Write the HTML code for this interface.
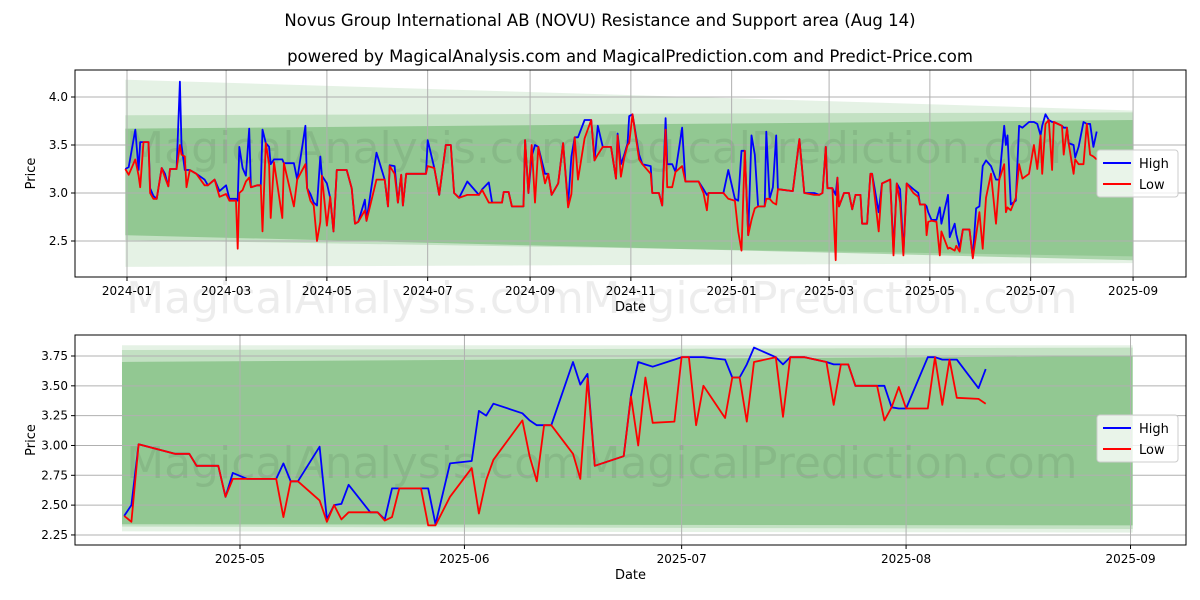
<!DOCTYPE html>
<html><head><meta charset="utf-8">
<style>
body{margin:0;background:#fff;}
svg{display:block;font-family:"DejaVu Sans","Liberation Sans",sans-serif;}
</style></head>
<body>
<svg id="chart" width="1200" height="600" viewBox="0 0 1200 600" xmlns="http://www.w3.org/2000/svg">
<rect width="1200" height="600" fill="#fff"/>
<text x="600" y="26" text-anchor="middle" font-size="16.5">Novus Group International AB (NOVU) Resistance and Support area (Aug 14)</text>
<text x="630" y="62" text-anchor="middle" font-size="16.5">powered by MagicalAnalysis.com and MagicalPrediction.com and Predict-Price.com</text>
<g id="topPanelG"></g>
<g id="botPanelG"></g>
</svg>
<script>
// ---- TOP CHART DATA (day offsets from 2024-01-01) ----
const topDays=[-1,1,5,7,8,10,13,14,16,18,21,23,25,26,30,32,33,35,36,38,42,47,49,53,56,60,62,66,67,68,70,72,74,75,79,81,82,84,86,87,89,94,95,101,103,108,109,111,113,115,117,118,121,123,125,127,133,136,138,140,144,145,151,156,158,159,162,164,166,167,169,181,182,186,189,193,196,198,201,206,213,215,219,221,227,228,231,233,240,241,243,245,247,249,253,255,257,261,264,267,269,271,273,277,281,283,285,288,293,296,297,299,301,303,304,306,310,312,317,318,322,324,326,327,330,332,336,338,346,349,351,352,361,364,368,370,372,374,376,378,380,382,386,387,389,391,393,394,403,407,410,416,419,421,423,424,427,429,430,431,434,437,439,441,444,445,448,450,451,455,457,462,464,466,468,470,472,476,479,480,483,484,485,487,490,492,493,497,498,501,502,504,506,510,512,514,516,518,520,523,526,528,531,532,533,535,538,540,542,546,549,551,553,554,556,558,560,561,566,567,569,570,573,574,576,579,581,583,585,587];
const topHigh=[3.25,3.27,3.66,3.24,3.53,3.53,3.53,3.05,2.97,2.94,3.26,3.2,3.07,3.25,3.25,4.16,3.5,3.24,3.24,3.24,3.2,3.14,3.08,3.14,3.02,3.08,2.94,2.94,2.92,3.48,3.26,3.18,3.67,3.06,3.08,3.08,3.66,3.52,3.48,3.3,3.35,3.35,3.31,3.31,3.14,3.7,3.05,2.99,2.9,2.87,3.38,3.18,3.1,2.95,2.6,3.24,3.24,3.05,2.68,2.7,2.93,2.71,3.42,3.14,2.86,3.29,3.28,2.9,3.19,2.87,3.2,3.2,3.55,3.26,2.98,3.5,3.5,3.0,2.95,3.12,2.98,3.04,3.11,2.9,2.9,3.01,3.01,2.86,2.86,3.55,3.0,3.38,3.5,3.48,3.2,3.2,2.98,3.1,3.52,2.88,3.38,3.58,3.58,3.76,3.76,3.34,3.7,3.48,3.48,3.15,3.62,3.3,3.4,3.52,3.8,3.82,3.4,3.3,3.28,3.0,3.0,2.87,3.78,3.3,3.3,3.22,3.68,3.12,3.12,3.04,2.98,3.0,3.0,3.24,2.94,2.92,3.44,3.44,2.56,3.6,3.4,2.86,2.86,3.64,2.94,3.06,3.6,3.04,3.02,3.56,3.0,3.0,2.98,3.0,3.48,3.05,3.05,2.98,3.16,2.86,3.0,3.0,2.83,2.98,2.98,2.68,2.68,3.2,3.2,2.8,3.1,3.14,2.4,3.1,3.04,2.38,3.1,3.04,3.0,2.88,2.88,2.86,2.8,2.72,2.72,2.85,2.68,2.98,2.54,2.68,2.57,2.43,2.62,2.62,2.33,2.84,2.86,3.28,3.34,3.28,3.14,3.14,3.7,3.5,3.6,2.88,2.92,3.7,3.68,3.74,3.74,3.72,3.6,3.7,3.82,3.76,3.74,3.74,3.7,3.68,3.68,3.52,3.5,3.37,3.48,3.74,3.72,3.72,3.48,3.64];
const topLow=[3.25,3.19,3.35,3.18,3.06,3.53,3.53,3.0,2.94,2.94,3.26,3.16,3.07,3.25,3.25,3.5,3.4,3.38,3.06,3.24,3.2,3.08,3.08,3.14,2.96,2.99,2.92,2.92,2.42,3.0,3.03,3.12,3.16,3.06,3.08,3.08,2.6,3.52,3.3,2.74,3.32,2.74,3.31,2.86,3.14,3.3,3.05,2.92,2.87,2.5,2.7,3.18,2.66,2.96,2.6,3.24,3.24,3.05,2.68,2.7,2.82,2.71,3.14,3.14,2.86,3.28,3.2,2.9,3.19,2.87,3.2,3.2,3.28,3.26,2.98,3.5,3.5,3.0,2.95,2.98,2.98,3.03,2.9,2.9,2.9,3.01,3.01,2.86,2.86,3.55,3.0,3.5,2.9,3.48,3.1,3.2,2.98,3.1,3.52,2.85,2.99,3.58,3.14,3.57,3.76,3.34,3.4,3.48,3.48,3.15,3.6,3.17,3.37,3.5,3.52,3.82,3.35,3.3,3.2,3.0,3.0,2.87,3.66,3.06,3.06,3.22,3.28,3.12,3.12,3.0,2.82,3.0,3.0,2.94,2.92,2.6,2.4,3.44,2.56,2.72,2.84,2.86,2.86,2.94,2.94,2.9,2.88,3.04,3.02,3.56,3.0,2.98,2.98,3.0,3.48,3.05,3.05,2.3,3.16,2.86,3.0,3.0,2.83,2.98,2.98,2.68,2.68,3.2,3.2,2.6,3.1,3.14,2.35,3.1,2.9,2.35,3.1,3.0,2.96,2.88,2.88,2.56,2.7,2.71,2.7,2.35,2.6,2.42,2.43,2.4,2.45,2.39,2.62,2.62,2.32,2.56,2.8,2.42,2.95,3.2,2.68,3.14,3.3,2.8,2.85,2.82,2.95,3.3,3.15,3.2,3.5,3.25,3.6,3.2,3.72,3.76,3.24,3.74,3.7,3.4,3.68,3.52,3.2,3.35,3.3,3.3,3.72,3.4,3.38,3.35];
const topTickLabels=["2024-01","2024-03","2024-05","2024-07","2024-09","2024-11","2025-01","2025-03","2025-05","2025-07","2025-09"];
const topTickDays=[0,60,121,182,244,305,366,425,486,547,609];
const topYTicks=[2.5,3.0,3.5,4.0];
const topBandOuter=[4.18,3.86,2.23,2.27];
const topBandMid=[3.81,3.84,2.51,2.34];
const topBandInner=[3.67,3.76,2.56,2.30];
const topBandDays=[-1,609];

// ---- BOTTOM CHART DATA (day offsets from 2025-05-01) ----
const botDays=[-16,-15,-14,-9,-7,-6,-3,-2,-1,1,5,6,7,8,11,12,13,14,15,18,19,20,21,22,25,26,27,29,32,33,34,35,39,40,41,42,43,46,47,48,49,53,54,55,56,57,60,61,62,63,64,67,68,69,70,71,74,75,76,78,81,82,83,84,85,88,89,90,91,92,95,96,97,98,99,102,103];
const botHigh=[2.41,2.50,3.01,2.93,2.93,2.83,2.83,2.57,2.77,2.72,2.72,2.85,2.70,2.70,2.99,2.38,2.50,2.51,2.67,2.44,2.44,2.38,2.64,2.64,2.64,2.64,2.34,2.85,2.87,3.29,3.25,3.35,3.27,3.21,3.17,3.17,3.17,3.70,3.51,3.60,2.83,2.91,3.42,3.70,3.68,3.66,3.72,3.74,3.74,3.74,3.74,3.72,3.57,3.57,3.68,3.82,3.74,3.68,3.74,3.74,3.70,3.68,3.68,3.68,3.50,3.50,3.50,3.32,3.31,3.31,3.74,3.74,3.72,3.72,3.72,3.48,3.64];
const botLow=[2.41,2.36,3.01,2.93,2.93,2.83,2.83,2.57,2.72,2.72,2.72,2.40,2.70,2.70,2.54,2.36,2.50,2.38,2.44,2.44,2.44,2.37,2.40,2.64,2.64,2.33,2.33,2.57,2.81,2.43,2.71,2.88,3.21,2.91,2.70,3.17,3.17,2.93,2.72,3.56,2.83,2.91,3.41,3.00,3.57,3.19,3.20,3.74,3.74,3.17,3.50,3.23,3.57,3.57,3.20,3.70,3.74,3.24,3.74,3.74,3.70,3.34,3.68,3.68,3.50,3.50,3.21,3.32,3.49,3.31,3.31,3.74,3.34,3.72,3.40,3.39,3.35];
const botTickLabels=["2025-05","2025-06","2025-07","2025-08","2025-09"];
const botTickDays=[0,31,61,92,123];
const botYTicks=[2.25,2.50,2.75,3.00,3.25,3.50,3.75];
const botBandOuter=[3.84,3.84,2.28,2.27];
const botBandMid=[3.80,3.82,2.32,2.30];
const botBandInner=[3.70,3.75,2.34,2.33];
const botBandDays=[-16.3,123.3];

const NS="http://www.w3.org/2000/svg";
function mk(parent,tag,attrs,text){const e=document.createElementNS(NS,tag);for(const k in attrs)e.setAttribute(k,attrs[k]);if(text!==undefined)e.textContent=text;parent.appendChild(e);return e;}

function drawPanel(g,cfg){
  const {L,R,T,B,xs,ys,yFmt}=cfg;
  const sx=d=>xs.p0+(d-xs.d0)*xs.k;
  const sy=v=>ys.p0-(v-ys.v0)*ys.k;
  mk(g,'rect',{x:L,y:T,width:R-L,height:B-T,fill:'#fff'});
  const bands=[[cfg.bOuter,0.1],[cfg.bMid,0.15],[cfg.bInner,0.25]];
  const bandNames=['outer-band','middle-band','inner-band'];
  bands.forEach((b,i)=>{
    const [tS,tE,bS,bE]=b[0];const d0=cfg.bDays[0],d1=cfg.bDays[1];
    const p=mk(g,'polygon',{points:`${sx(d0)},${sy(tS)} ${sx(d1)},${sy(tE)} ${sx(d1)},${sy(bE)} ${sx(d0)},${sy(bS)}`,fill:'#008000','fill-opacity':b[1]});
    
    
  });
  cfg.xTicks.forEach((d,i)=>{
    const x=sx(d);
    mk(g,'line',{x1:x,y1:T,x2:x,y2:B,stroke:'#b0b0b0','stroke-width':1});
    mk(g,'line',{x1:x,y1:B,x2:x,y2:B+4,stroke:'#000'});
    const t=mk(g,'text',{x:x,y:B+18,'text-anchor':'middle','font-size':12},cfg.xLabels[i]);
    
    
  });
  cfg.yTicks.forEach(v=>{
    const y=sy(v);
    mk(g,'line',{x1:L,y1:y,x2:R,y2:y,stroke:'#b0b0b0','stroke-width':1});
    mk(g,'line',{x1:L-4,y1:y,x2:L,y2:y,stroke:'#000'});
    const t=mk(g,'text',{x:L-7,y:y+4,'text-anchor':'end','font-size':12},yFmt(v));
    
    
  });
  cfg.marks.forEach(m=>{
    const w=mk(g,'text',{x:m[0],y:m[1],'text-anchor':'middle','font-size':44,fill:'#000','fill-opacity':0.07},m[2]);
    
    
  });
  const line=(vals,color,name)=>{
    const n=Math.min(cfg.days.length,vals.length);
    const pts=[];
    for(let i=0;i<n;i++){pts.push(sx(cfg.days[i]).toFixed(1)+','+sy(vals[i]).toFixed(1));}
    const p=mk(g,'polyline',{points:pts.join(' '),fill:'none',stroke:color,'stroke-width':1.8,'stroke-linejoin':'round'});
    
    
  };
  line(cfg.high,'#0000ff','high-line');
  line(cfg.low,'#ff0000','low-line');
  mk(g,'rect',{x:L,y:T,width:R-L,height:B-T,fill:'none',stroke:'#000','stroke-width':1});
  const lx=cfg.leg[0],ly=cfg.leg[1];
  const lg=mk(g,'g',{});
  
  
  mk(lg,'rect',{x:lx,y:ly,width:81,height:47,rx:3,fill:'#fff','fill-opacity':0.8,stroke:'#ccc'});
  mk(lg,'line',{x1:lx+6,y1:ly+13,x2:lx+34,y2:ly+13,stroke:'#0000ff','stroke-width':2});
  mk(lg,'text',{x:lx+42,y:ly+18,'font-size':13},'High');
  mk(lg,'line',{x1:lx+6,y1:ly+34,x2:lx+34,y2:ly+34,stroke:'#ff0000','stroke-width':2});
  mk(lg,'text',{x:lx+42,y:ly+39,'font-size':13},'Low');
  const xt=mk(g,'text',{x:(L+R)/2,y:B+34,'text-anchor':'middle','font-size':13},'Date');
  
  
  const yt=mk(g,'text',{x:0,y:0,'text-anchor':'middle','font-size':13,transform:`translate(35,${(T+B)/2}) rotate(-90)`},'Price');
  
  
}

const topPanel=document.getElementById('topPanelG');


drawPanel(topPanel,{L:75,R:1186,T:70,B:277,
  xs:{d0:0,p0:127,k:1.652},ys:{v0:4.0,p0:97,k:96},yFmt:v=>v.toFixed(1),
  days:topDays,high:topHigh,low:topLow,xTicks:topTickDays,xLabels:topTickLabels,yTicks:topYTicks,
  bOuter:topBandOuter,bMid:topBandMid,bInner:topBandInner,bDays:topBandDays,
  marks:[[355,163,'MagicalAnalysis.com'],[830,163,'MagicalPrediction.com'],[355,313,'MagicalAnalysis.com'],[830,313,'MagicalPrediction.com']],
  leg:[1097,150]});
const botPanel=document.getElementById('botPanelG');


drawPanel(botPanel,{L:75,R:1186,T:335,B:545,
  xs:{d0:0,p0:240,k:7.24},ys:{v0:3.75,p0:356,k:119.3},yFmt:v=>v.toFixed(2),
  days:botDays,high:botHigh,low:botLow,xTicks:botTickDays,xLabels:botTickLabels,yTicks:botYTicks,
  bOuter:botBandOuter,bMid:botBandMid,bInner:botBandInner,bDays:botBandDays,
  marks:[[355,478,'MagicalAnalysis.com'],[830,478,'MagicalPrediction.com']],
  leg:[1097,415]});
</script>
</body></html>
